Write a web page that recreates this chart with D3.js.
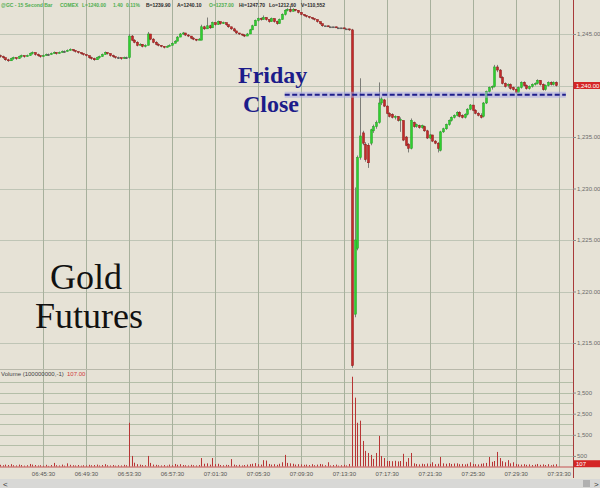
<!DOCTYPE html>
<html><head><meta charset="utf-8">
<script src="https://cdn.jsdelivr.net/npm/d3@7"></script>
<style>
html,body{margin:0;padding:0;background:#e6e2d6;overflow:hidden;}
svg{display:block;}
</style></head><body>
<svg id="chart" width="600" height="488"></svg>
<script>
// ---------- DATA ----------
const barStart = "06:41:30";
const barSeconds = 15;

const opens = [
1242.9,1242.8,1242.7,1242.5,1242.4,1242.6,1242.7,1242.6,1242.8,1242.9,
1242.8,1242.9,1243.1,1243.2,1243.0,1242.9,1242.8,1242.9,1243.0,1243.0,
1243.1,1243.2,1243.1,1243.2,1243.3,1243.3,1243.4,1243.5,1243.4,1243.3,
1243.2,1243.1,1243.0,1242.9,1242.7,1242.6,1242.5,1242.7,1242.8,1243.0,
1243.2,1243.1,1242.9,1242.8,1242.7,1242.7,1242.6,1242.7,1242.7,1244.8,
1244.4,1244.2,1243.9,1244.0,1243.8,1243.9,1245.0,1244.5,1244.2,1244.0,
1243.9,1243.8,1243.7,1243.8,1243.9,1244.1,1244.3,1244.7,1245.0,1245.1,
1244.9,1244.8,1244.6,1244.5,1244.4,1244.4,1245.7,1245.5,1245.8,1245.6,
1246.1,1245.9,1246.2,1246.0,1246.1,1245.9,1245.7,1245.5,1245.3,1245.1,
1245.0,1244.9,1244.8,1245.0,1245.4,1245.8,1246.3,1246.5,1246.4,1246.6,
1246.4,1246.2,1246.5,1246.2,1246.0,1246.4,1246.9,1247.3,1247.4,1247.2,
1247.4,1247.3,1247.1,1246.9,1246.8,1246.7,1246.6,1246.5,1246.4,1246.2,
1246.0,1245.8,1245.8,1245.7,1245.7,1245.7,1245.6,1245.6,1245.6,1245.5,
1245.5,1245.4,1217.8,1224.2,1233.0,1235.4,1234.3,1234.2,1234.4,1235.6,
1236.0,1236.4,1238.3,1238.6,1238.0,1237.3,1237.2,1236.9,1237.0,1236.6,
1236.6,1235.0,1234.3,1233.9,1236.4,1236.0,1236.1,1235.9,1236.0,1235.6,
1234.9,1235.2,1234.6,1234.4,1233.7,1235.5,1235.8,1236.2,1236.6,1236.9,
1237.1,1237.4,1237.1,1236.9,1237.2,1237.7,1238.1,1237.6,1237.3,1237.1,
1237.0,1238.3,1239.4,1239.8,1239.9,1241.8,1241.5,1240.8,1240.2,1240.0,
1240.1,1239.8,1239.6,1239.3,1239.8,1240.3,1240.0,1239.7,1239.9,1240.1,
1240.2,1240.5,1240.1,1239.6,1240.0,1240.3,1240.1,1240.3
];
const highs = [
1243.0,1242.9,1242.7,1242.6,1242.7,1242.8,1242.7,1242.9,1243.0,1242.9,
1243.0,1243.2,1243.3,1243.2,1243.1,1242.9,1243.0,1243.1,1243.1,1243.2,
1243.3,1243.2,1243.3,1243.4,1243.4,1243.5,1243.6,1243.5,1243.4,1243.3,
1243.2,1243.1,1243.0,1242.9,1242.8,1242.7,1242.8,1242.9,1243.1,1243.3,
1243.2,1243.1,1243.0,1242.8,1242.8,1242.7,1242.8,1242.8,1245.0,1244.9,
1244.5,1244.3,1244.1,1244.0,1244.0,1245.2,1245.0,1244.6,1244.3,1244.1,
1243.9,1243.8,1243.9,1244.0,1244.2,1244.4,1244.8,1245.1,1245.2,1245.1,
1245.0,1244.8,1244.7,1244.5,1244.6,1245.9,1245.8,1246.6,1245.9,1246.2,
1246.1,1246.3,1246.2,1246.2,1246.1,1245.9,1245.7,1245.6,1245.3,1245.1,
1245.0,1245.0,1245.1,1245.5,1245.9,1246.4,1246.6,1246.6,1246.8,1246.6,
1246.4,1246.6,1246.5,1246.3,1246.5,1247.0,1247.4,1247.5,1247.7,1247.5,
1247.4,1247.3,1247.1,1246.9,1246.8,1246.7,1246.6,1246.5,1246.4,1246.2,
1246.0,1245.8,1245.8,1245.7,1245.7,1245.7,1245.6,1245.6,1245.6,1245.5,
1245.5,1245.5,1230.1,1233.2,1240.7,1235.6,1234.5,1234.4,1235.8,1236.2,
1236.6,1240.3,1238.9,1238.7,1238.1,1237.4,1237.3,1237.1,1237.0,1236.9,
1236.6,1235.1,1234.4,1236.8,1236.5,1236.3,1236.2,1236.2,1236.1,1235.7,
1235.3,1235.2,1234.7,1234.5,1235.6,1235.9,1236.3,1236.7,1237.0,1237.2,
1237.5,1237.5,1237.2,1237.3,1237.8,1238.2,1238.1,1237.7,1237.4,1237.3,
1238.4,1239.5,1239.9,1240.0,1242.0,1242.0,1241.6,1240.9,1240.3,1240.2,
1240.2,1239.9,1239.7,1239.9,1240.4,1240.4,1240.1,1240.0,1240.2,1240.3,
1240.6,1240.5,1240.2,1240.1,1240.4,1240.4,1240.4,1240.4
];
const lows = [
1242.7,1242.6,1242.4,1242.3,1242.4,1242.5,1242.5,1242.6,1242.7,1242.7,
1242.8,1242.9,1243.0,1242.9,1242.8,1242.7,1242.8,1242.9,1242.9,1243.0,
1243.1,1243.0,1243.1,1243.2,1243.2,1243.3,1243.4,1243.3,1243.2,1243.1,
1243.0,1242.9,1242.8,1242.6,1242.5,1242.4,1242.5,1242.6,1242.8,1243.0,
1243.0,1242.8,1242.7,1242.6,1242.6,1242.5,1242.6,1242.6,1242.6,1244.3,
1244.1,1243.8,1243.9,1243.7,1243.7,1243.9,1244.4,1244.1,1243.9,1243.8,
1243.7,1243.6,1243.7,1243.8,1243.9,1244.1,1244.3,1244.7,1244.9,1244.8,
1244.7,1244.5,1244.4,1244.3,1244.4,1244.4,1245.4,1245.5,1245.5,1245.6,
1245.8,1245.9,1245.9,1246.0,1245.8,1245.6,1245.4,1245.2,1245.0,1244.9,
1244.8,1244.7,1244.8,1245.0,1245.4,1245.8,1246.2,1246.3,1246.4,1246.3,
1246.1,1246.2,1246.1,1245.9,1246.0,1246.4,1246.8,1247.2,1247.1,1247.2,
1247.2,1247.0,1246.8,1246.7,1246.6,1246.5,1246.4,1246.3,1246.1,1245.9,
1245.7,1245.8,1245.7,1245.7,1245.7,1245.6,1245.6,1245.6,1245.5,1245.5,
1245.3,1212.6,1217.5,1224.0,1232.8,1234.2,1232.6,1232.0,1234.2,1235.4,
1235.8,1236.3,1238.1,1237.9,1237.2,1236.9,1236.8,1236.7,1236.5,1235.5,
1234.6,1234.1,1233.5,1233.8,1235.9,1235.9,1235.8,1235.8,1235.5,1234.8,
1234.8,1234.5,1234.3,1233.5,1233.6,1235.4,1235.7,1236.1,1236.5,1236.8,
1237.0,1236.9,1236.8,1236.8,1237.1,1237.6,1237.5,1237.2,1237.0,1236.8,
1236.9,1238.2,1239.3,1239.6,1239.8,1241.3,1240.7,1240.1,1239.8,1239.8,
1239.6,1239.5,1239.2,1239.3,1239.7,1239.9,1239.6,1239.6,1239.8,1240.0,
1240.1,1240.0,1239.5,1239.5,1239.9,1240.0,1240.0,1239.9
];
const closes = [
1242.8,1242.7,1242.5,1242.4,1242.6,1242.7,1242.6,1242.8,1242.9,1242.8,
1242.9,1243.1,1243.2,1243.0,1242.9,1242.8,1242.9,1243.0,1243.0,1243.1,
1243.2,1243.1,1243.2,1243.3,1243.3,1243.4,1243.5,1243.4,1243.3,1243.2,
1243.1,1243.0,1242.9,1242.7,1242.6,1242.5,1242.7,1242.8,1243.0,1243.2,
1243.1,1242.9,1242.8,1242.7,1242.7,1242.6,1242.7,1242.7,1244.8,1244.4,
1244.2,1243.9,1244.0,1243.8,1243.9,1245.0,1244.5,1244.2,1244.0,1243.9,
1243.8,1243.7,1243.8,1243.9,1244.1,1244.3,1244.7,1245.0,1245.1,1244.9,
1244.8,1244.6,1244.5,1244.4,1244.5,1245.7,1245.5,1245.8,1245.6,1246.1,
1245.9,1246.2,1246.0,1246.1,1245.9,1245.7,1245.5,1245.3,1245.1,1245.0,
1244.9,1244.8,1245.0,1245.4,1245.8,1246.3,1246.5,1246.4,1246.6,1246.4,
1246.2,1246.5,1246.2,1246.0,1246.4,1246.9,1247.3,1247.4,1247.2,1247.4,
1247.3,1247.1,1246.9,1246.8,1246.7,1246.6,1246.5,1246.4,1246.2,1246.0,
1245.8,1245.8,1245.7,1245.7,1245.7,1245.6,1245.6,1245.6,1245.5,1245.5,
1245.4,1212.8,1225.0,1233.0,1235.1,1234.4,1232.8,1232.5,1235.7,1236.0,
1236.4,1238.3,1238.7,1238.0,1237.3,1237.0,1236.9,1237.0,1236.6,1236.7,
1234.7,1234.2,1233.9,1236.6,1236.0,1236.2,1235.9,1236.1,1235.6,1234.9,
1235.2,1234.6,1234.4,1233.9,1235.5,1235.8,1236.2,1236.6,1236.9,1237.1,
1237.4,1237.0,1236.9,1237.2,1237.7,1238.1,1237.6,1237.3,1237.1,1236.9,
1238.3,1239.4,1239.8,1239.9,1241.8,1241.5,1240.8,1240.2,1239.9,1240.1,
1239.7,1239.6,1239.3,1239.8,1240.3,1240.0,1239.7,1239.9,1240.1,1240.2,
1240.5,1240.1,1239.6,1240.0,1240.3,1240.1,1240.3,1240.0
];
const volumes = [
80,60,90,70,110,60,50,90,70,40,
60,120,90,70,50,60,40,80,30,70,
170,60,50,90,40,150,80,60,50,70,
40,60,50,80,60,70,90,50,70,110,
60,50,70,40,60,50,80,60,2070,500,
180,110,90,70,60,500,170,90,80,60,
50,70,40,90,60,120,80,110,70,60,
50,80,60,50,70,400,130,150,90,400,
110,130,70,60,80,70,350,90,60,80,
50,70,90,110,130,160,110,90,300,280,
120,90,110,80,130,200,550,170,150,130,
90,110,100,80,90,70,110,60,90,120,
100,60,200,50,70,90,40,60,80,50,
120,4250,3260,2070,2170,1210,740,640,550,360,
640,1450,500,400,260,260,250,270,240,260,
600,220,400,640,150,120,100,130,110,140,
120,200,110,130,450,150,130,160,120,140,
150,110,120,100,130,200,120,110,100,130,
150,170,450,220,260,690,400,250,200,300,
150,200,120,100,90,110,80,100,70,90,
120,80,100,70,110,60,90,107
];

const priceTicks = [1245, 1240, 1235, 1230, 1225, 1220, 1215];
const volumeGrid = [500, 1000, 1500, 2000, 2500, 3000, 3500, 4000];
const volumeLabels = [3500, 2500, 1500, 500];
const timeTicks = ["06:45:30","06:49:30","06:53:30","06:57:30","07:01:30","07:05:30",
                   "07:09:30","07:13:30","07:17:30","07:21:30","07:25:30","07:29:30","07:33:30"];
const lastPrice = 1240.00;
const lastVolume = 107;
const fridayClose = 1239.1;
const fridaySpan = ["07:08:00", "07:34:10"];
const headerTexts = ["@GC - 15 Second Bar", "COMEX", "L=1240.00", "1.40", "0.11%",
  "B=1239.90", "A=1240.10", "O=1237.00", "Hi=1247.70", "Lo=1212.60", "V=110,552"];
const headerColors = ["#4fae4f", "#4fae4f", "#4fae4f", "#4fae4f", "#4fae4f",
  "#2a2a2a", "#2a2a2a", "#4fae4f", "#2a2a2a", "#2a2a2a", "#2a2a2a"];
const headerX = [1, 60, 82, 113, 126, 146, 177, 209, 239, 269, 301];

// ---------- SCALES ----------
const parse = d3.timeParse("%H:%M:%S");
const plotRight = 573;
const x = d3.scaleTime().domain([parse("06:41:30"), parse("07:34:50")]).range([0, plotRight]);
const yP = d3.scaleLinear().domain([1215, 1245]).range([343, 34]);
const yV = d3.scaleLinear().domain([0, 4000]).range([466.5, 382]);
const t0 = parse(barStart);
const bars = closes.map((c, i) => ({
  t: d3.timeSecond.offset(t0, i * barSeconds),
  o: opens[i], h: highs[i], l: lows[i], c: c, v: volumes[i]
}));

const svg = d3.select("#chart");
const FONT = "Liberation Sans, Arial, sans-serif";
svg.append("rect").attr("width", 600).attr("height", 488).attr("fill", "#e6e2d6");

// ---------- GRID ----------
const grid = svg.append("g");
grid.selectAll("line.hp").data(priceTicks).join("line")
  .attr("x1", 0).attr("x2", plotRight)
  .attr("y1", d => Math.round(yP(d)) + 0.5).attr("y2", d => Math.round(yP(d)) + 0.5)
  .attr("stroke", "#bfc5b6").attr("stroke-width", 1);
grid.selectAll("line.hv").data(volumeGrid).join("line")
  .attr("x1", 0).attr("x2", plotRight)
  .attr("y1", d => Math.round(yV(d)) + 0.5).attr("y2", d => Math.round(yV(d)) + 0.5)
  .attr("stroke", "#b4bea8").attr("stroke-width", 1);
grid.selectAll("line.v").data(timeTicks).join("line")
  .attr("x1", d => Math.round(x(parse(d))) + 0.5).attr("x2", d => Math.round(x(parse(d))) + 0.5)
  .attr("y1", 0).attr("y2", 467)
  .attr("stroke", "#a7b09c").attr("stroke-width", 1);
svg.append("line").attr("x1", 0).attr("x2", plotRight).attr("y1", 369.5).attr("y2", 369.5)
  .attr("stroke", "#b8b8aa").attr("stroke-width", 1);

// ---------- CANDLES ----------
svg.append("clipPath").attr("id", "pclip").append("rect")
  .attr("x", 0).attr("y", 0).attr("width", plotRight).attr("height", 369);
const gC = svg.append("g").attr("clip-path", "url(#pclip)");
const cg = gC.selectAll("g.c").data(bars).join("g");
cg.append("line")
  .attr("x1", d => Math.round(x(d.t)) + 0.5).attr("x2", d => Math.round(x(d.t)) + 0.5)
  .attr("y1", d => yP(d.h)).attr("y2", d => yP(d.l))
  .attr("stroke", "#7d7d78").attr("stroke-width", 1);
cg.append("rect")
  .attr("x", d => Math.round(x(d.t)) - 0.5)
  .attr("width", 2)
  .attr("y", d => Math.min(yP(d.o), yP(d.c)))
  .attr("height", d => Math.max(1, Math.abs(yP(d.o) - yP(d.c))))
  .attr("fill", d => d.c > d.o ? "#2fcf2f" : (d.c < d.o ? "#c42a2a" : "#555"))
  .attr("stroke", d => d.c > d.o ? "#22a022" : (d.c < d.o ? "#8a1414" : "#555"))
  .attr("stroke-width", 0.5);

// ---------- VOLUME ----------
svg.append("g").selectAll("line").data(bars).join("line")
  .attr("x1", d => Math.round(x(d.t)) + 0.5).attr("x2", d => Math.round(x(d.t)) + 0.5)
  .attr("y1", yV(0)).attr("y2", d => yV(d.v))
  .attr("stroke", "#b83434").attr("stroke-width", 1);
svg.append("line").attr("x1", 0).attr("x2", plotRight).attr("y1", 467).attr("y2", 467)
  .attr("stroke", "#c45050").attr("stroke-width", 1.2);

// ---------- FRIDAY CLOSE LINE ----------
const fy = yP(fridayClose);
svg.append("line")
  .attr("x1", x(parse(fridaySpan[0]))).attr("x2", x(parse(fridaySpan[1])))
  .attr("y1", fy).attr("y2", fy)
  .attr("stroke", "#a9a9e6").attr("stroke-opacity", 0.55).attr("stroke-width", 6);
svg.append("line")
  .attr("x1", x(parse(fridaySpan[0]))).attr("x2", x(parse(fridaySpan[1])))
  .attr("y1", fy).attr("y2", fy)
  .attr("stroke", "#1f1f8c").attr("stroke-width", 2).attr("stroke-dasharray", "5,2.5");

// ---------- RIGHT AXES ----------
svg.append("line").attr("x1", plotRight + 0.5).attr("x2", plotRight + 0.5)
  .attr("y1", 0).attr("y2", 478).attr("stroke", "#a83a3a").attr("stroke-width", 1);

const pAxis = d3.axisRight(yP).tickValues(priceTicks.filter(d => d !== lastPrice))
  .tickFormat(d3.format(",.2f")).tickSize(3).tickPadding(1);
const gPA = svg.append("g").attr("transform", `translate(${plotRight},0)`).call(pAxis)
  .attr("font-size", 6).attr("font-family", FONT);
gPA.select(".domain").remove();
gPA.selectAll("line").attr("stroke", "#8a8a8a");
gPA.selectAll("text").attr("fill", "#6a6a6a");

svg.append("rect").attr("x", plotRight + 1).attr("y", yP(lastPrice) - 3.5)
  .attr("width", 27).attr("height", 7).attr("fill", "#d42626");
svg.append("text").attr("x", plotRight + 3).attr("y", yP(lastPrice) + 2.2)
  .attr("font-size", 6).attr("font-family", FONT).attr("fill", "#fff")
  .text(d3.format(",.2f")(lastPrice));

const vAxis = d3.axisRight(yV).tickValues(volumeLabels)
  .tickFormat(d3.format(",")).tickSize(3).tickPadding(1);
const gVA = svg.append("g").attr("transform", `translate(${plotRight},0)`).call(vAxis)
  .attr("font-size", 6).attr("font-family", FONT);
gVA.select(".domain").remove();
gVA.selectAll("line").attr("stroke", "#8a8a8a");
gVA.selectAll("text").attr("fill", "#6a6a6a");
svg.append("rect").attr("x", plotRight + 1).attr("y", yV(lastVolume) - 4)
  .attr("width", 27).attr("height", 7).attr("fill", "#d42626");
svg.append("text").attr("x", plotRight + 3).attr("y", yV(lastVolume) + 1.8)
  .attr("font-size", 6).attr("font-family", FONT).attr("fill", "#fff").text(lastVolume);

// ---------- TIME AXIS ----------
const tAxis = d3.axisBottom(x).tickValues(timeTicks.map(parse))
  .tickFormat(d3.timeFormat("%H:%M:%S")).tickSize(0).tickPadding(3);
const gTA = svg.append("g").attr("transform", "translate(0,469)").call(tAxis)
  .attr("font-size", 6).attr("font-family", FONT);
gTA.select(".domain").remove();
gTA.selectAll("text").attr("fill", "#555");

// ---------- HEADER / LABELS ----------
svg.append("g").selectAll("text").data(headerTexts).join("text")
  .attr("x", (d, i) => headerX[i]).attr("y", 6.5)
  .attr("font-size", 5).attr("font-weight", "bold").attr("font-family", FONT)
  .attr("fill", (d, i) => headerColors[i]).text(d => d);

svg.append("text").attr("x", 1).attr("y", 376).attr("font-size", 6)
  .attr("font-family", FONT).attr("fill", "#444").text("Volume (100000000,-1)");
svg.append("text").attr("x", 67).attr("y", 376).attr("font-size", 6)
  .attr("font-family", FONT).attr("fill", "#d03a3a").text(d3.format(".2f")(lastVolume));

const serif = "Liberation Serif, Times New Roman, serif";
svg.append("text").attr("x", 238).attr("y", 83).attr("font-size", 24).attr("font-weight", "bold")
  .attr("font-family", serif).attr("fill", "#1c1c8a").text("Friday");
svg.append("text").attr("x", 243).attr("y", 112).attr("font-size", 24).attr("font-weight", "bold")
  .attr("font-family", serif).attr("fill", "#1c1c8a").text("Close");

svg.append("text").attr("x", 86).attr("y", 289).attr("text-anchor", "middle").attr("font-size", 36)
  .attr("font-family", serif).attr("fill", "#111").text("Gold");
svg.append("text").attr("x", 89).attr("y", 328).attr("text-anchor", "middle").attr("font-size", 36)
  .attr("font-family", serif).attr("fill", "#111").text("Futures");

// ---------- SCROLL BAR ----------
svg.append("rect").attr("x", 0).attr("y", 479).attr("width", 600).attr("height", 9).attr("fill", "#d8d8d6");
svg.append("text").attr("x", 3).attr("y", 486.5).attr("font-size", 8).attr("font-family", FONT)
  .attr("fill", "#333").text("<");
svg.append("rect").attr("x", 583).attr("y", 480).attr("width", 7).attr("height", 7).attr("fill", "#b0b0b0");
svg.append("text").attr("x", 594).attr("y", 486.5).attr("font-size", 8).attr("font-family", FONT)
  .attr("fill", "#333").text(">");
</script>
</body></html>
